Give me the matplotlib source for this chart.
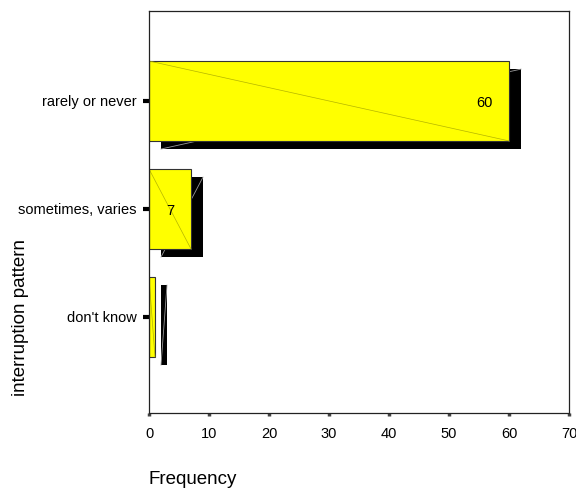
import numpy as np
import matplotlib
matplotlib.use('Agg')
import matplotlib.pyplot as plt

plt.rcParams['font.family'] = ['Liberation Sans', 'DejaVu Sans']

categories = ['rarely or never', 'sometimes, varies', "don't know"]
counts = [60, 7, 1]
shown_labels = ['60', '7', '']

fig = plt.figure(figsize=(5.76, 4.91), dpi=100)
ax = fig.add_axes([149 / 576, 1 - 413 / 491, 420 / 576, 402 / 491])

pos = np.arange(len(categories))
h = 0.74
dx, dy = 2.0, 0.075  # shadow offset

# shadow
ax.barh(pos + dy, counts, left=dx, height=h, color='black', zorder=1)
for p, v in zip(pos, counts):
    ax.plot([dx, dx + v], [p + dy + h / 2, p + dy - h / 2], color='#9a9a9a', lw=0.6, zorder=1.5)

# bars
ax.barh(pos, counts, height=h, color='#ffff00', edgecolor='#333333', linewidth=0.8, zorder=2)
for p, v in zip(pos, counts):
    ax.plot([0, v], [p - h / 2, p + h / 2], color='#b4b400', lw=0.5, zorder=2.5)

for p, v, s in zip(pos, counts, shown_labels):
    if s:
        ax.text(v - 2.7, p + 0.02, s, ha='right', va='center', fontsize=10.5, zorder=3)

ax.set_xlim(0, 70)
ax.set_ylim(2.889, -0.833)
ax.set_xticks(np.arange(0, 71, 10))
ax.set_yticks(pos)
ax.set_yticklabels(categories)

ax.tick_params(axis='y', length=4, width=3, pad=5, labelsize=10.5, color='black')
ax.tick_params(axis='x', length=2, width=2.5, pad=8, labelsize=10.5, color='#444444')

for sp in ax.spines.values():
    sp.set_color('#222222')
    sp.set_linewidth(0.9)

fig.text(148 / 576, 1 - 480 / 491, 'Frequency', ha='left', va='center', fontsize=13.5)
fig.text(21 / 576, 1 - 317 / 491, 'interruption pattern', rotation=90,
         ha='center', va='center', fontsize=13.5)

fig.savefig('out.png', dpi=100)
